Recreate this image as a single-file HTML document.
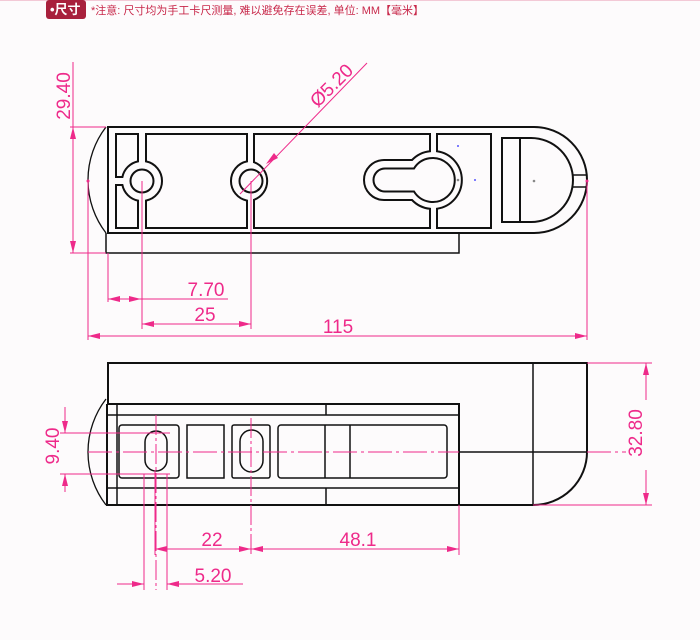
<!DOCTYPE html>
<html><head><meta charset="utf-8"><style>
html,body{margin:0;padding:0;background:#fdfbfc;}
svg{display:block;}
</style></head><body>
<svg width="700" height="640" viewBox="0 0 700 640" xmlns="http://www.w3.org/2000/svg">
<defs>
<marker id="a" viewBox="0 0 12 6" refX="12" refY="3" markerWidth="12" markerHeight="6" markerUnits="userSpaceOnUse" orient="auto-start-reverse"><path d="M0,0 L12,3 L0,6 z" fill="#ee2a8a"/></marker>
</defs>
<rect x="0" y="0" width="700" height="1" fill="#f3c9d6"/>
<rect x="46" y="0" width="40" height="19" rx="3" fill="#a8203c"/>
<text x="50" y="14" font-family="Liberation Sans, Noto Sans CJK SC, sans-serif" font-size="13" font-weight="bold" fill="#fff">•尺寸</text>
<text x="91" y="14" font-family="Liberation Sans, Noto Sans CJK SC, sans-serif" font-size="11" fill="#c8284a">*注意: 尺寸均为手工卡尺测量, 难以避免存在误差, 单位: MM【毫米】</text>

<!-- TOP VIEW -->
<g fill="none" stroke="#111" stroke-width="2">
<path d="M108,127 H534 A53,53 0 0 1 534,233 H108 Z"/>
<path d="M106,127 A87,87 0 0 0 106,233" stroke-width="1.3"/>
<path d="M106,233 V253 H459 V233" stroke-width="1.5"/>
<path d="M116,134 H138 V161.4 A20,20 0 0 0 122.4,177 H116 Z"/>
<path d="M116,228 H138 V200.6 A20,20 0 0 1 122.4,185 H116 Z"/>
<path d="M146,134 H247 V161.4 A20,20 0 0 0 247,200.6 V228 H146 V200.6 A20,20 0 0 0 146,161.4 Z"/>
<path d="M254,134 H430 V151.2 A29,29 0 0 0 412,160 H384 A20,20 0 0 0 384,200 H412 A29,29 0 0 0 430,208.8 V228 H254 V199.8 A20,20 0 0 0 254,162.2 Z"/>
<path d="M437,134 H491 V228 H437 V208.7 A29,29 0 0 0 437,151.3 Z"/>
<path d="M414,168.5 H385 A11.5,11.5 0 0 0 385,191.5 H414 A22,22 0 1 0 414,168.5 Z"/>
<circle cx="142" cy="181" r="11.5"/>
<circle cx="251" cy="181" r="11.5"/>
<rect x="502" y="138" width="18" height="84"/>
<path d="M520,138 H531 A42,42 0 0 1 531,222 H520 Z"/>
<path d="M573,175 H587 M573,187 H587" stroke-width="1.5"/>
</g>
<circle cx="458" cy="146" r="1" fill="#55f"/><circle cx="475" cy="180" r="1" fill="#55f"/><circle cx="458" cy="180" r="1.3" fill="#888"/><circle cx="534" cy="181" r="1.3" fill="#888"/>

<!-- top pink dims -->
<g stroke="#ee2a8a" stroke-width="1" fill="none">
<path d="M70,127 H106 M70,253 H106"/>
<line x1="73" y1="62" x2="73" y2="253"/>
<polygon points="73,127 70,139 76,139" fill="#ee2a8a" stroke="none"/>
<polygon points="73,253 70,241 76,241" fill="#ee2a8a" stroke="none"/>
<path d="M88,181 V340 M587,181 V340 M108,253 V302 M142,181 V329 M251,181 V329"/>
<line x1="108" y1="299" x2="228" y2="299" marker-start="url(#a)"/>
<polygon points="141,299 129,296 129,302" fill="#ee2a8a" stroke="none"/>
<line x1="142" y1="324" x2="251" y2="324" marker-start="url(#a)" marker-end="url(#a)"/>
<line x1="88" y1="336" x2="587" y2="336" marker-start="url(#a)" marker-end="url(#a)"/>
<line x1="367" y1="63" x2="240" y2="194"/>
<polygon points="266,164 274,153 278,158" fill="#ee2a8a" stroke="none"/>
</g>
<circle cx="88" cy="181" r="1.5" fill="#ee2a8a"/><circle cx="587" cy="181" r="1.5" fill="#ee2a8a"/>
<g font-family="Liberation Sans, sans-serif" font-size="19" fill="#ee2a8a" text-anchor="middle">
<text x="206" y="296">7.70</text>
<text x="205" y="321">25</text>
<text x="338" y="333">115</text>
<text transform="translate(70,96) rotate(-90)">29.40</text>
<text transform="translate(336,90) rotate(-45)">Ø5.20</text>
<text x="212" y="546">22</text>
<text x="358" y="546">48.1</text>
<text x="213" y="582">5.20</text>
<text transform="translate(59,446) rotate(-90)">9.40</text>
<text transform="translate(642,433) rotate(-90)">32.80</text>
</g>

<!-- BOTTOM VIEW -->
<g fill="none" stroke="#111" stroke-width="1.5">
<path d="M108,404 V363 H587 V452 A54,53 0 0 1 533,505 H459" stroke-width="2"/>
<path d="M108,404 H459 V505 H107 V404" stroke-width="2"/>
<path d="M106,399 A87,87 0 0 0 106,505" stroke-width="1.3"/>
<path d="M107,415 H459 M107,488 H459 M117,404 V505 M326,404 V415 M326,488 V505 M533,363 V505 M459,452 H587"/>
<rect x="119" y="425" width="60" height="53" rx="3"/>
<rect x="187" y="425" width="37" height="53"/>
<rect x="232" y="425" width="38" height="53" rx="2"/>
<rect x="278" y="425" width="169" height="53" rx="3"/>
<path d="M325,425 V478 M350,425 V478"/>
<rect x="145" y="431" width="22" height="40" rx="11"/>
<rect x="240" y="430" width="23" height="42" rx="11.5"/>
</g>
<g stroke="#ee2a8a" stroke-width="1" fill="none">
<path d="M88,452 H459 M587,452 H626" stroke-dasharray="24,4,3,4"/>
<path d="M156,415 V590 M251,418 V555" stroke-dasharray="20,3,3,3"/>
<path d="M60,433 H170 M60,474 H170 M144,474 V590 M167,474 V590 M155,470 V555 M459,505 V555"/>
<path d="M587,363 H652 M533,505 H652"/>
<line x1="65" y1="407" x2="65" y2="433" marker-end="url(#a)"/>
<line x1="65" y1="492" x2="65" y2="474" marker-end="url(#a)"/>
<line x1="646" y1="400" x2="646" y2="363" marker-end="url(#a)"/>
<line x1="646" y1="470" x2="646" y2="505" marker-end="url(#a)"/>
<line x1="155" y1="549" x2="251" y2="549" marker-start="url(#a)" marker-end="url(#a)"/>
<line x1="251" y1="549" x2="459" y2="549" marker-start="url(#a)" marker-end="url(#a)"/>
<line x1="117" y1="584" x2="144" y2="584" marker-end="url(#a)"/>
<line x1="243" y1="584" x2="167" y2="584" marker-end="url(#a)"/>
</g>
</svg>
</body></html>
